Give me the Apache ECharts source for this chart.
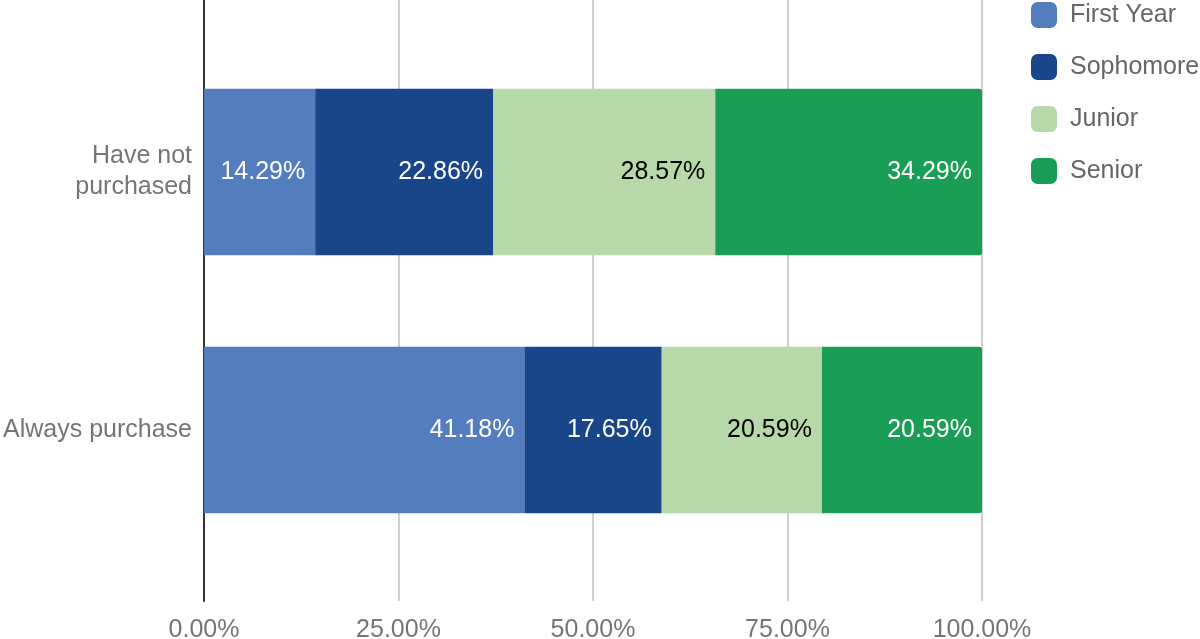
<!DOCTYPE html>
<html>
<head>
<meta charset="utf-8">
<script src="https://cdn.jsdelivr.net/npm/echarts@6/dist/echarts.min.js"></script>
<style>
  html, body { margin: 0; padding: 0; background: #fff; }
  #main { width: 1200px; height: 639px; }
</style>
</head>
<body>
<div id="main"></div>
<script>
var categories = ['Have not\npurchased', 'Always purchase'];
var firstYear = [14.29, 41.18];
var sophomore = [22.86, 17.65];
var junior = [28.57, 20.59];
var senior = [34.29, 20.59];
var tickLabels = ['0.00%', '25.00%', '50.00%', '75.00%', '100.00%'];

var chart = echarts.init(document.getElementById('main'));
var font = 'Arial, "Liberation Sans", sans-serif';

function mkSeries(name, data, color, textColor, radius) {
  return {
    name: name,
    type: 'bar',
    stack: 'total',
    xAxisIndex: 1,
    yAxisIndex: 1,
    data: data,
    barWidth: '64.5%',
    itemStyle: { color: color, borderRadius: radius || 0 },
    label: {
      show: true,
      position: 'insideRight',
      distance: 10,
      color: textColor,
      fontSize: 25,
      fontFamily: font,
      formatter: function (p) { return p.value.toFixed(2) + '%'; }
    },
    emphasis: { disabled: true }
  };
}

var option = {
  animation: false,
  textStyle: { fontFamily: font },
  grid: [
    { left: 204, right: 218, top: 0, bottom: 38, outerBoundsMode: 'none' },
    { left: 204, right: 218, top: 43, bottom: 80, outerBoundsMode: 'none' }
  ],
  legend: {
    orient: 'vertical',
    left: 1026,
    top: -3,
    itemWidth: 26,
    itemHeight: 26,
    itemGap: 26,
    icon: 'roundRect',
    textStyle: { fontSize: 25, color: '#666', fontFamily: font, padding: [0, 0, 0, 8] },
    data: ['First Year', 'Sophomore', 'Junior', 'Senior']
  },
  xAxis: [{
    type: 'value',
    gridIndex: 0,
    min: 0,
    max: 100,
    interval: 25,
    axisLine: { show: false },
    axisTick: { show: false },
    splitLine: { lineStyle: { color: '#cfcfcf', width: 2 } },
    axisLabel: {
      fontSize: 25,
      color: '#757575',
      margin: 17,
      fontFamily: font,
      formatter: function (v) { return tickLabels[v / 25]; }
    }
  }, {
    type: 'value',
    gridIndex: 1,
    min: 0,
    max: 100,
    show: false
  }],
  yAxis: [{
    type: 'category',
    gridIndex: 0,
    data: [''],
    axisLine: { lineStyle: { color: '#333', width: 2 } },
    axisTick: { show: false },
    axisLabel: { show: false }
  }, {
    type: 'category',
    gridIndex: 1,
    inverse: true,
    data: categories,
    axisLine: { show: false },
    axisTick: { show: false },
    axisLabel: {
      fontSize: 25,
      color: '#757575',
      margin: 12,
      lineHeight: 31,
      align: 'right',
      fontFamily: font
    }
  }],
  series: [
    mkSeries('First Year', firstYear, '#547dbf', '#ffffff'),
    mkSeries('Sophomore', sophomore, '#19468a', '#ffffff'),
    mkSeries('Junior', junior, '#b7d8a8', '#000000'),
    mkSeries('Senior', senior, '#1a9e55', '#ffffff', [0, 3, 3, 0])
  ]
};
chart.setOption(option);
</script>
</body>
</html>
